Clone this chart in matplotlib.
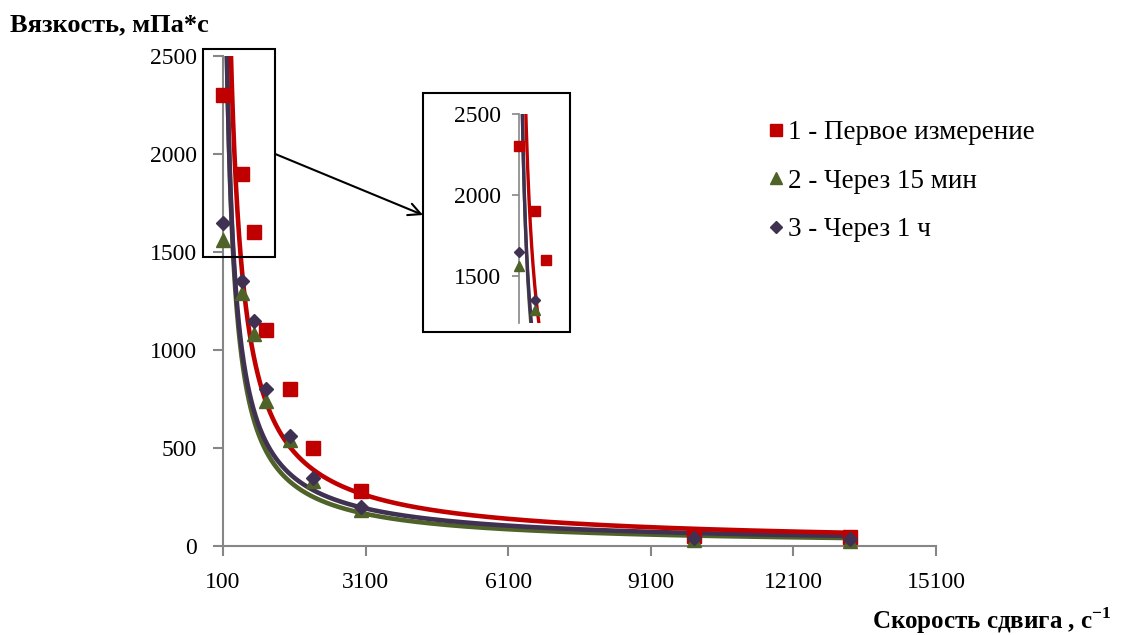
import numpy as np
import matplotlib.pyplot as plt
from matplotlib.lines import Line2D
from matplotlib.patches import Rectangle

plt.rcParams['font.family'] = ['Liberation Serif', 'DejaVu Serif']
plt.rcParams['mathtext.fontset'] = 'custom'
plt.rcParams['mathtext.rm'] = 'Liberation Serif'
plt.rcParams['mathtext.bf'] = 'Liberation Serif:bold'

# shear rate, 1/s
shear = [100, 500, 750, 1000, 1500, 2000, 3000, 10000, 13300]
# viscosity, mPa*s
visc_1 = [2300, 1900, 1600, 1100, 800, 500, 280, 50, 45]
visc_2 = [1560, 1290, 1080, 740, 540, 330, 185, 30, 25]
visc_3 = [1650, 1350, 1150, 800, 560, 345, 200, 40, 35]

labels = ['1 - Первое измерение', '2 - Через 15 мин', '3 - Через 1 ч']
x_ticks = [100, 3100, 6100, 9100, 12100, 15100]
y_ticks = [0, 500, 1000, 1500, 2000, 2500]
inset_ticks = [1500, 2000, 2500]

RED = '#C00000'
GREEN = '#4F6228'
PURPLE = '#403152'
GREY = '#868686'

series = [
    (visc_1, RED, 's', 10.5),
    (visc_2, GREEN, '^', 9.5),
    (visc_3, PURPLE, 'D', 7.5),
]


def power_fit(x, y):
    # excel-style power trendline (least squares in log-log)
    b, ln_a = np.polyfit(np.log(x), np.log(y), 1)
    xs = np.linspace(min(x), max(x), 2000)
    return xs, np.exp(ln_a) * xs ** b


fig = plt.figure(figsize=(11.3, 6.35), dpi=100)
W, H = 1130, 635

ax = fig.add_axes([223 / W, 89 / H, 713 / W, 490 / H])
line_order = [(1, 3), (2, 4), (0, 5)]  # green under purple, red on top
for idx, z in line_order:
    y, c, m, ms = series[idx]
    xs, ys = power_fit(shear, y)
    ax.plot(xs, ys, color=c, lw=3.3, zorder=z, solid_capstyle='butt')
for y, c, m, ms in series:
    ax.plot(shear, y, ls='none', marker=m, ms=ms, color=c, mec=c,
            zorder=6, clip_on=False)

ax.set_xlim(100, 15100)
ax.set_ylim(0, 2500)
ax.set_xticks(x_ticks)
ax.set_yticks(y_ticks)
ax.tick_params(labelsize=17, length=7, width=1.5, color=GREY, pad=12,
               direction='out')
for s in ['top', 'right']:
    ax.spines[s].set_visible(False)
for s in ['left', 'bottom']:
    ax.spines[s].set_color(GREY)
    ax.spines[s].set_linewidth(1.5)

# zoom frame on the main plot
ax.add_patch(Rectangle((-330, 1475), 1530, 1060, fill=False, ec='black',
                       lw=1.5, clip_on=False, zorder=7))

# inset
box_l, box_b, box_w, box_h = 423, 635 - 332, 147, 239
fig.add_artist(Rectangle((box_l / W, box_b / H), box_w / W, box_h / H,
                         transform=fig.transFigure, fill=False, ec='black',
                         lw=1.5))
ins = fig.add_axes([519 / W, 312 / H, 49 / W, 209 / H])
ins_x0, ins_x1, ins_y0, ins_y1 = 100, 1300, 1210, 2500
for idx, z in line_order:
    y, c, m, ms = series[idx]
    xs, ys = power_fit(shear, y)
    ins.plot(xs, ys, color=c, lw=2.4, zorder=z)
for y, c, m, ms in series:
    pts = [(a, b) for a, b in zip(shear, y)
           if ins_x0 <= a <= ins_x1 and ins_y0 <= b <= ins_y1]
    px, py = zip(*pts)
    ins.plot(px, py, ls='none', marker=m, ms=ms * 0.7, color=c, mec=c,
             zorder=6, clip_on=False)
ins.set_xlim(ins_x0, ins_x1)
ins.set_ylim(ins_y0, ins_y1)
ins.set_xticks([])
ins.set_yticks(inset_ticks)
ins.tick_params(labelsize=17, length=5, width=1.2, color=GREY, pad=8)
ins.patch.set_alpha(0)
for s in ['top', 'right', 'bottom']:
    ins.spines[s].set_visible(False)
ins.spines['left'].set_color(GREY)
ins.spines['left'].set_linewidth(1.2)

# arrow from zoom frame to inset
ax.annotate('', xy=(box_l, H - 215), xycoords='figure pixels',
            xytext=(1200, 2000), textcoords='data',
            arrowprops=dict(arrowstyle='->', color='black', lw=1.5,
                            shrinkA=0, shrinkB=0, mutation_scale=22))

handles = [Line2D([], [], ls='none', marker=m, ms=ms * 0.85, color=c, mec=c)
           for y, c, m, ms in series]
fig.legend(handles, labels, loc='upper left',
           bbox_to_anchor=(769 / W, 1 - 120 / H), frameon=False,
           fontsize=19.5, handlelength=0.5, handletextpad=0.2,
           labelspacing=0.87, borderpad=0, borderaxespad=0)

fig.text(10 / W, 1 - 31 / H, 'Вязкость, мПа*с', fontsize=19,
         fontweight='bold', ha='left', va='baseline')
fig.text(1112 / W, 1 - 629 / H, r'Скорость сдвига , с$^{\mathbf{-1}}$',
         fontsize=18, fontweight='bold', ha='right', va='baseline')

fig.savefig('out.png', dpi=100)
